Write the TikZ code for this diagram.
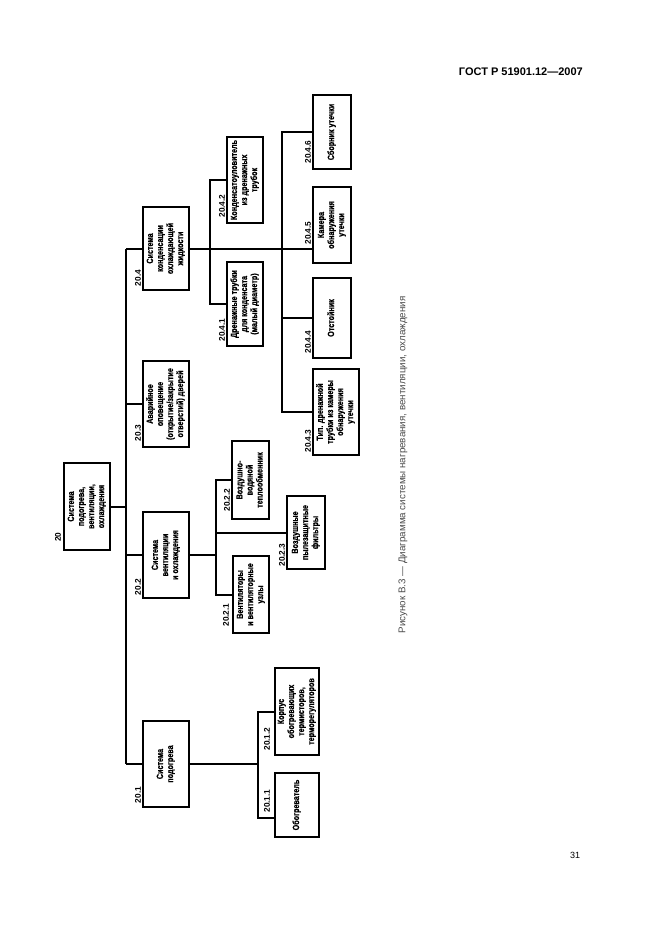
\documentclass[tikz,border=0pt]{standalone}
\usepackage{fontspec}
\setmainfont{Liberation Sans}
\newfontfamily\bx{Liberation Sans}[FakeStretch=0.8, BoldFeatures={FakeBold=0.6}]
\newcommand\rtx[1]{\rotatebox{90}{\renewcommand\arraystretch{0.93}\begin{tabular}{@{}c@{}}#1\end{tabular}}}
\begin{document}
\begin{tikzpicture}[x=1pt,y=-1pt,
 bbox/.style={draw, line width=2.3pt, inner sep=0pt, font=\bx\bfseries\fontsize{9}{10.8}\selectfont},
 lab/.style={rotate=90, font=\bfseries\fontsize{8.3}{9}\selectfont, inner sep=0pt},
 conn/.style={line width=2pt}]
\useasboundingbox[fill=white] (0,0) rectangle (661,936);

% header, footer, caption
\node[anchor=east, font=\bfseries\fontsize{11}{13}\selectfont, inner sep=0pt] (hdr) at (583,72) {ГОСТ Р 51901.12—2007};
\node[font=\fontsize{9}{11}\selectfont, inner sep=0pt] (pg) at (575,855) {31};
\node[rotate=90, font=\fontsize{9.8}{11}\selectfont, text=black!70, inner sep=0pt] (cap) at (403,465) {Рисунок В.3 — Диаграмма системы нагревания, вентиляции, охлаждения};

% boxes
\node[bbox, minimum width=46pt, minimum height=87pt] (n20) at (87,506.5) {\rtx{Система\\подогрева,\\вентиляции,\\охлаждения}};
\node[bbox, minimum width=46pt, minimum height=86pt] (n201) at (166,764) {\rtx{Система\\подогрева}};
\node[bbox, minimum width=46pt, minimum height=86pt] (n202) at (166,555) {\rtx{Система\\вентиляции\\и охлаждения}};
\node[bbox, minimum width=46pt, minimum height=86pt] (n203) at (166,404) {\rtx{Аварийное\\оповещение\\(открытие/закрытие\\отверстий) дверей}};
\node[bbox, minimum width=46pt, minimum height=83pt] (n204) at (166,248.5) {\rtx{Система\\конденсации\\охлаждающей\\жидкости}};

\node[bbox, minimum width=44pt, minimum height=64pt] (n2011) at (297,805) {\rtx{Обогреватель}};
\node[bbox, minimum width=44pt, minimum height=87pt] (n2012) at (297,711.5) {\rtx{Корпус\\обогревающих\\термисторов,\\терморегуляторов}};

\node[bbox, minimum width=36pt, minimum height=77pt] (n2021) at (251,594.5) {\rtx{Вентиляторы\\и вентиляторные\\узлы}};
\node[bbox, minimum width=37pt, minimum height=78pt] (n2022) at (250.5,480) {\rtx{Воздушно-\\водяной\\теплообменник}};
\node[bbox, minimum width=38pt, minimum height=73pt] (n2023) at (306,532.5) {\rtx{Воздушные\\пылезащитные\\фильтры}};

\node[bbox, minimum width=36pt, minimum height=84pt] (n2041) at (245,304) {\rtx{Дренажные трубки\\для конденсата\\(малый диаметр)}};
\node[bbox, minimum width=36pt, minimum height=86pt] (n2042) at (245,180) {\rtx{Конденсатоуловитель\\из дренажных\\трубок}};
\node[bbox, minimum width=46pt, minimum height=86pt] (n2043) at (336,412) {\rtx{Тип. дренажной\\трубки из камеры\\обнаружения\\утечки}};
\node[bbox, minimum width=38pt, minimum height=80pt] (n2044) at (332,318) {\rtx{Отстойник}};
\node[bbox, minimum width=38pt, minimum height=76pt] (n2045) at (332,225) {\rtx{Камера\\обнаружения\\утечки}};
\node[bbox, minimum width=38pt, minimum height=74pt] (n2046) at (332,132) {\rtx{Сборник утечки}};

% labels
\node[lab] (l20) at (58,537) {20};
\node[lab] (l201) at (138,795) {20.1};
\node[lab] (l202) at (138,587) {20.2};
\node[lab] (l203) at (138,433) {20.3};
\node[lab] (l204) at (138,278) {20.4};
\node[lab] (l2011) at (267,801) {20.1.1};
\node[lab] (l2012) at (267,739) {20.1.2};
\node[lab] (l2021) at (226,615) {20.2.1};
\node[lab] (l2022) at (227,500) {20.2.2};
\node[lab] (l2023) at (282,555) {20.2.3};
\node[lab] (l2041) at (222,330) {20.4.1};
\node[lab] (l2042) at (222,206) {20.4.2};
\node[lab] (l2043) at (308,441) {20.4.3};
\node[lab] (l2044) at (308,342) {20.4.4};
\node[lab] (l2045) at (308,233) {20.4.5};
\node[lab] (l2046) at (308,152) {20.4.6};

% connectors
\coordinate (t4) at (126,248.5);
\coordinate (t1) at (126,764);
\draw[conn] (t4) -- (t1);
\draw[conn] (n20.east) -- (n20.east -| t1);
\draw[conn] (t4) -- (n204.west);
\draw[conn] (n203.west -| t1) -- (n203.west);
\draw[conn] (n202.west -| t1) -- (n202.west);
\draw[conn] (t1) -- (n201.west);

\coordinate (j1a) at (258,712);
\coordinate (j1b) at (258,818);
\draw[conn] (n201.east) -- (n201.east -| j1a);
\draw[conn] (n2012.west) -| (j1b) -- (n2011.west |- j1b);

\coordinate (j2) at (216,0);
\draw[conn] (n202.east) -- (n202.east -| j2);
\draw[conn] (n2022.west) -| (j2 |- n2021.west) -- (n2021.west);
\draw[conn] (n2023.west) -- (n2023.west -| j2);

\coordinate (j4a) at (210,0);
\coordinate (j4b) at (282,0);
\draw[conn] (n204.east) -- (n2045.west |- n204.east);
\draw[conn] (n2042.west) -| (j4a |- n2041.west) -- (n2041.west);
\draw[conn] (n2046.west) -| (j4b |- n2043.west) -- (n2043.west);
\draw[conn] (n2044.west) -- (n2044.west -| j4b);
\end{tikzpicture}
\end{document}
